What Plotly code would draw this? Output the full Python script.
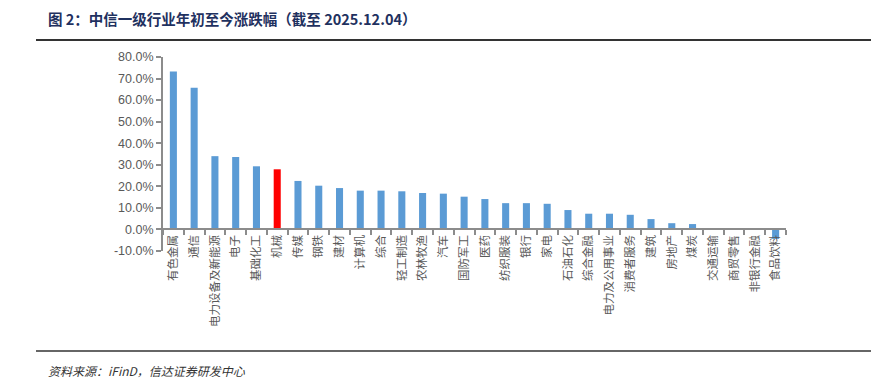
import plotly.graph_objects as go

categories = ["有色金属", "通信", "电力设备及新能源", "电子", "基础化工", "机械", "传媒", "钢铁", "建材",
              "计算机", "综合", "轻工制造", "农林牧渔", "汽车", "国防军工", "医药", "纺织服装", "银行",
              "家电", "石油石化", "综合金融", "电力及公用事业", "消费者服务", "建筑", "房地产", "煤炭",
              "交通运输", "商贸零售", "非银行金融", "食品饮料"]
values = [73.3, 65.7, 34.0, 33.6, 29.3, 27.9, 22.5, 20.3, 19.2,
          18.0, 18.0, 17.7, 16.9, 16.6, 15.2, 14.1, 12.2, 12.2,
          11.9, 9.0, 7.3, 7.3, 6.8, 4.8, 2.9, 2.5,
          0.6, 0.0, -0.1, -4.4]
highlight = "机械"
y_ticks = [-10, 0, 10, 20, 30, 40, 50, 60, 70, 80]
y_tick_labels = [f"{v:.1f}%" for v in y_ticks]

title_text = "图 2：中信一级行业年初至今涨跌幅（截至 2025.12.04）"
source_text = "资料来源：iFinD，信达证券研发中心"

W, H = 888, 378
L, R, T, B = 163, 102, 57, 127
PW, PH = W - L - R, H - T - B


def px_x(p):
    return (p - L) / PW


def px_y(p):
    return (H - B - p) / PH


colors = ["#FF0000" if c == highlight else "#5B9BD5" for c in categories]

fig = go.Figure(go.Bar(x=categories, y=values, marker=dict(color=colors, line=dict(width=0)),
                       width=0.34, hoverinfo="x+y"))

axis_grey = "#8C8C8C"
fig.update_layout(
    width=W, height=H,
    margin=dict(l=L, r=R, t=T, b=B, autoexpand=False),
    plot_bgcolor="white", paper_bgcolor="white",
    showlegend=False,
    xaxis=dict(
        type="category", range=[-0.5, len(categories) - 0.5],
        anchor="free", position=10 / 90,
        showline=True, linecolor=axis_grey, linewidth=2,
        ticks="outside", tickson="boundaries", ticklen=5, tickcolor=axis_grey, tickwidth=1.5,
        tickangle=-90, showgrid=False,
        tickfont=dict(family="Noto Sans CJK SC", size=11.5, color="#595959"),
    ),
    yaxis=dict(
        range=[-10, 80], tickvals=y_ticks, ticktext=y_tick_labels,
        showline=True, linecolor=axis_grey, linewidth=2,
        ticks="outside", ticklen=5, tickcolor=axis_grey, tickwidth=1.5,
        showgrid=False, zeroline=False,
        tickfont=dict(family="Liberation Sans", size=12.5, color="#595959"),
    ),
    annotations=[
        dict(text="<b>" + title_text + "</b>", xref="paper", yref="paper",
             x=px_x(46), y=px_y(18), xanchor="left", yanchor="middle", showarrow=False,
             font=dict(family="Noto Sans CJK SC", size=14.5, color="#1F3160")),
        dict(text=source_text, xref="paper", yref="paper",
             x=px_x(46), y=px_y(370), xanchor="left", yanchor="middle", showarrow=False,
             font=dict(family="Noto Sans CJK SC", size=12, color="#333333", style="italic")),
    ],
    shapes=[
        dict(type="line", xref="paper", yref="paper", x0=px_x(36), x1=px_x(871),
             y0=px_y(40), y1=px_y(40), line=dict(color="#333333", width=2)),
        dict(type="line", xref="paper", yref="paper", x0=px_x(36), x1=px_x(871),
             y0=px_y(351), y1=px_y(351), line=dict(color="#333333", width=1.5)),
    ],
)

fig.write_html("out.html", config={"displayModeBar": False},
               post_script="document.body.style.margin='0';document.body.style.overflow='hidden';")
